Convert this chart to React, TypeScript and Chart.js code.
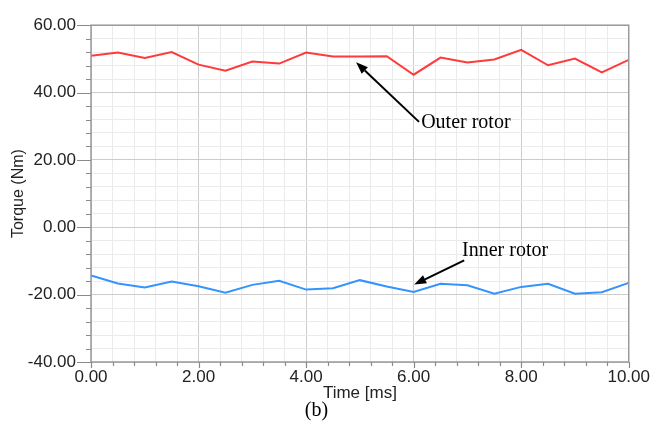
import React, { useEffect, useRef } from "react";
import { Chart, registerables } from "chart.js";

Chart.register(...registerables);

const times = [0, 0.5, 1, 1.5, 2, 2.5, 3, 3.5, 4, 4.5, 5, 5.5, 6, 6.5, 7, 7.5, 8, 8.5, 9, 9.5, 10];
const outerRotor = [50.9, 51.9, 50.3, 52.0, 48.3, 46.5, 49.2, 48.6, 51.9, 50.7, 50.7, 50.8, 45.3, 50.4, 48.9, 49.8, 52.7, 48.1, 50.1, 46.0, 49.7];
const innerRotor = [-14.3, -16.7, -17.9, -16.1, -17.5, -19.4, -17.1, -15.9, -18.5, -18.1, -15.7, -17.6, -19.2, -16.8, -17.2, -19.7, -17.7, -16.8, -19.7, -19.3, -16.5];

const xMajor = 2;
const yMajor = 20;

// annotation anchors in data coordinates
const annotations = [
  { text: "Outer rotor", tx: 6.14, ty: 29.6, tail: [6.1, 31.3], tip: [4.93, 49.0] },
  { text: "Inner rotor", tx: 6.9, ty: -8.4, tail: [6.94, -9.8], tip: [6.01, -17.0] },
];

const isMajor = (v: number, step: number) => Math.abs(v / step - Math.round(v / step)) < 1e-6;

const decorPlugin = {
  id: "decor",
  afterDraw(chart: any) {
    const { ctx, chartArea, scales } = chart;
    const xs = scales.x;
    const ys = scales.y;
    ctx.save();
    // frame
    ctx.strokeStyle = "#9a9a9a";
    ctx.lineWidth = 1.5;
    ctx.strokeRect(chartArea.left, chartArea.top, chartArea.right - chartArea.left, chartArea.bottom - chartArea.top);
    // ticks
    ctx.strokeStyle = "#8a8a8a";
    ctx.lineWidth = 1.2;
    ctx.beginPath();
    ys.ticks.forEach((t: any) => {
      const y = Math.round(ys.getPixelForValue(t.value)) + 0.5;
      const len = isMajor(t.value, yMajor) ? 14 : 5;
      ctx.moveTo(chartArea.left - len, y);
      ctx.lineTo(chartArea.left, y);
    });
    xs.ticks.forEach((t: any) => {
      const x = Math.round(xs.getPixelForValue(t.value)) + 0.5;
      const len = isMajor(t.value, xMajor) ? 6 : 4;
      ctx.moveTo(x, chartArea.bottom);
      ctx.lineTo(x, chartArea.bottom + len);
    });
    ctx.stroke();

    // annotations
    ctx.fillStyle = "#000";
    ctx.strokeStyle = "#000";
    ctx.font = "20px 'Liberation Serif', 'DejaVu Serif', serif";
    ctx.textBaseline = "alphabetic";
    ctx.textAlign = "left";
    annotations.forEach((a) => {
      ctx.fillText(a.text, xs.getPixelForValue(a.tx), ys.getPixelForValue(a.ty));
      const x1 = xs.getPixelForValue(a.tail[0]);
      const y1 = ys.getPixelForValue(a.tail[1]);
      const x2 = xs.getPixelForValue(a.tip[0]);
      const y2 = ys.getPixelForValue(a.tip[1]);
      const ang = Math.atan2(y2 - y1, x2 - x1);
      const hl = 12;
      const hw = 4.5;
      const bx = x2 - hl * Math.cos(ang);
      const by = y2 - hl * Math.sin(ang);
      ctx.lineWidth = 2;
      ctx.beginPath();
      ctx.moveTo(x1, y1);
      ctx.lineTo(bx, by);
      ctx.stroke();
      ctx.beginPath();
      ctx.moveTo(x2, y2);
      ctx.lineTo(bx + hw * Math.sin(ang), by - hw * Math.cos(ang));
      ctx.lineTo(bx - hw * Math.sin(ang), by + hw * Math.cos(ang));
      ctx.closePath();
      ctx.fill();
    });

    // caption
    ctx.font = "20px 'Liberation Serif', 'DejaVu Serif', serif";
    ctx.textAlign = "center";
    ctx.textBaseline = "middle";
    ctx.fillText("(b)", 316.5, 411);
    ctx.restore();
  },
};

export default function App() {
  const ref = useRef<HTMLCanvasElement>(null);
  useEffect(() => {
    if (!ref.current) return;
    const chart = new Chart(ref.current, {
      type: "line",
      data: {
        datasets: [
          {
            label: "Outer rotor",
            data: times.map((t, i) => ({ x: t, y: outerRotor[i] })),
            borderColor: "#ff3a3a",
            borderWidth: 2,
            pointRadius: 0,
            tension: 0,
          },
          {
            label: "Inner rotor",
            data: times.map((t, i) => ({ x: t, y: innerRotor[i] })),
            borderColor: "#3393ff",
            borderWidth: 2,
            pointRadius: 0,
            tension: 0,
          },
        ],
      },
      options: {
        responsive: false,
        animation: false,
        layout: { padding: { top: 18, right: 25, left: 0, bottom: 0 } },
        plugins: { legend: { display: false }, tooltip: { enabled: false } },
        scales: {
          x: {
            type: "linear",
            min: 0,
            max: 10,
            afterFit: (s: any) => {
              s.height = 62;
            },
            ticks: {
              stepSize: 0.4,
              autoSkip: false,
              maxRotation: 0,
              padding: 5,
              color: "#222",
              font: { family: "'Liberation Sans', Arial, sans-serif", size: 17 },
              callback: (v: any) => (isMajor(Number(v), xMajor) ? Number(v).toFixed(2) : ""),
            },
            grid: {
              drawTicks: false,
              color: (c: any) => (c.tick && isMajor(c.tick.value, xMajor) ? "#cccccc" : "#ebebeb"),
              lineWidth: 1,
            },
            border: { display: false },
            title: {
              display: true,
              text: "Time [ms]",
              color: "#222",
              font: { family: "'Liberation Sans', Arial, sans-serif", size: 17 },
              padding: { top: 0, bottom: 20 },
            },
          },
          y: {
            type: "linear",
            min: -40,
            max: 60,
            afterFit: (s: any) => {
              s.width = 91;
            },
            ticks: {
              stepSize: 4,
              autoSkip: false,
              padding: 15,
              color: "#222",
              font: { family: "'Liberation Sans', Arial, sans-serif", size: 17 },
              callback: (v: any) => (isMajor(Number(v), yMajor) ? Number(v).toFixed(2) : ""),
            },
            grid: {
              drawTicks: false,
              color: (c: any) => (c.tick && isMajor(c.tick.value, yMajor) ? "#cccccc" : "#ebebeb"),
              lineWidth: 1,
            },
            border: { display: false },
            title: {
              display: true,
              text: "Torque (Nm)",
              color: "#222",
              font: { family: "'Liberation Sans', Arial, sans-serif", size: 16 },
              padding: { top: 9, bottom: 0 },
            },
          },
        },
      },
      plugins: [decorPlugin],
    });
    return () => chart.destroy();
  }, []);
  return (
    <div style={{ position: "absolute", left: 0, top: 0, width: 655, height: 424, background: "#fff" }}>
      <canvas ref={ref} width={655} height={424} style={{ width: 655, height: 424, display: "block" }} />
    </div>
  );
}
